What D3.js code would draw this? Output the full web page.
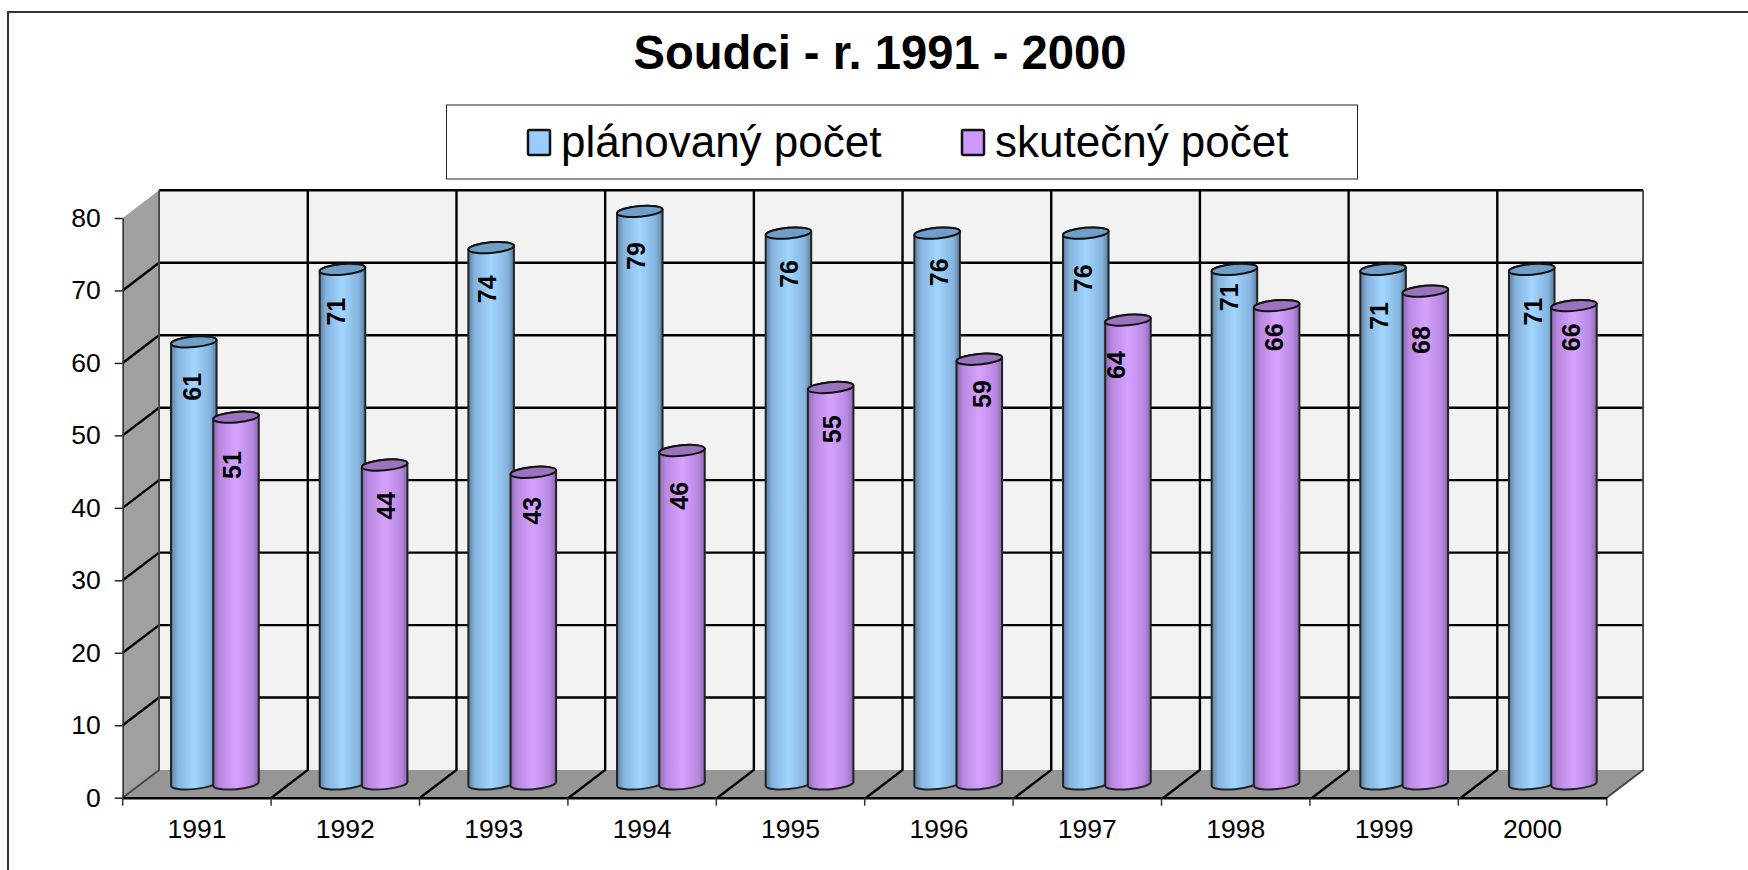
<!DOCTYPE html>
<html>
<head>
<meta charset="utf-8">
<script src="https://cdn.jsdelivr.net/npm/d3@7"></script>
<style>
html, body { margin: 0; padding: 0; background: #fff; }
svg { display: block; }
text { font-family: "Liberation Sans", Arial, sans-serif; fill: #000; }
</style>
</head>
<body>
<svg id="chart" width="1748" height="870"></svg>
<script>
let years = ["1991", "1992", "1993", "1994", "1995", "1996", "1997", "1998", "1999", "2000"];
let planned = [61, 71, 74, 79, 76, 76, 76, 71, 71, 71];
let actual = [50.6, 44, 43, 46, 54.7, 58.6, 64, 66, 68, 66];
let seriesNames = ["plánovaný počet", "skutečný počet"];
let yTicks = [0, 10, 20, 30, 40, 50, 60, 70, 80];

let svg = d3.select("#chart");

// the 3d box: front plane plus a depth shift to the back wall
let depth = {x: 36.4, y: -27.7};
let front = {left: 122.7, right: 1606.7, bottom: 797.7, top: 218};

let x = d3.scaleBand().domain(years).range([front.left, front.right]);
let xEdge = d3.scaleLinear().domain([0, years.length]).range([front.left, front.right]);
// gridlines and cylinders run on a slightly wider step than the axis ticks
let xCyl = d3.scaleBand().domain(years).range([front.left, front.left + 1486.6]);
let xGrid = d3.scaleLinear().domain([0, 9, 10]).range([front.left, front.left + 1338.2, front.right]);
let y = d3.scaleLinear().domain([0, 80]).range([front.bottom, front.top]);

let cylW = 45.7;
let cylStep = 42.2;
let cylLeft = 71.1;
let rx = cylW / 2, ry = 5.3, tilt = -5;

svg.append("path").attr("fill", "none").attr("stroke", "#333").attr("stroke-width", 2)
    .attr("d", d3.line()([[8, 870], [8, 12], [1748, 12]]));

let defs = svg.append("defs");
function cylGradient(id, edge, shade, mid) {
    let g = defs.append("linearGradient").attr("id", id);
    g.append("stop").attr("offset", "0%").attr("stop-color", edge);
    g.append("stop").attr("offset", "14%").attr("stop-color", shade);
    g.append("stop").attr("offset", "50%").attr("stop-color", mid);
    g.append("stop").attr("offset", "86%").attr("stop-color", shade);
    g.append("stop").attr("offset", "100%").attr("stop-color", edge);
}
cylGradient("gradBlue", "#5a7fa0", "#85b3dd", "#a1d6ff");
cylGradient("gradPurple", "#8a68ac", "#b888e0", "#d6a2ff");

// walls and floor
let bx0 = front.left + depth.x, bx1 = front.right + depth.x;
let by0 = front.bottom + depth.y, by1 = front.top + depth.y;

svg.append("rect").attr("x", bx0).attr("y", by1).attr("width", bx1 - bx0).attr("height", by0 - by1)
    .attr("fill", "#f2f2f2");
svg.append("path")
    .attr("d", d3.line()([[front.left, front.bottom], [bx0, by0], [bx0, by1], [front.left, front.top]]) + "Z")
    .attr("fill", "#a0a0a0");
svg.append("path")
    .attr("d", d3.line()([[front.left, front.bottom], [bx0, by0], [bx1, by0], [front.right, front.bottom]]) + "Z")
    .attr("fill", "#969696");

// gridlines, wrapping from the side wall onto the back wall
let grid = svg.append("g").attr("fill", "none").attr("stroke", "#000").attr("stroke-width", 2.4);
yTicks.filter(d => d > 0).forEach(d => {
    let pts = [[bx0, y(d) + depth.y], [bx1, y(d) + depth.y]];
    if (d < 80) pts.unshift([front.left, y(d)]);
    grid.append("path").attr("d", d3.line()(pts));
});
d3.range(0, years.length + 1).forEach(i => {
    let outer = i === 0 || i === years.length;
    grid.append("path")
        .attr("stroke", outer ? "#444" : "#000")
        .attr("stroke-width", outer ? 1.8 : 2.4)
        .attr("d", d3.line()([
            [xGrid(i), front.bottom], [xGrid(i) + depth.x, by0], [xGrid(i) + depth.x, by1]
        ]));
});

// axes
let yAxis = svg.append("g").attr("transform", "translate(" + front.left + ",0)")
    .call(d3.axisLeft(y).tickValues(yTicks).tickSize(8).tickSizeOuter(0).tickPadding(14));
let xAxis = svg.append("g").attr("transform", "translate(0," + front.bottom + ")")
    .call(d3.axisBottom(x).tickSize(0).tickPadding(21.5));
yAxis.select(".domain").attr("stroke", "#333").attr("stroke-width", 1.6);
xAxis.select(".domain").attr("stroke", "#000").attr("stroke-width", 2.6);
yAxis.selectAll(".tick line").attr("stroke", "#222").attr("stroke-width", 1.5);
yAxis.selectAll("text").attr("font-size", 26.5).style("font-family", '"Liberation Sans", Arial, sans-serif');
xAxis.selectAll("text").attr("font-size", 26.5).style("font-family", '"Liberation Sans", Arial, sans-serif');
svg.append("g").selectAll("line").data(d3.range(0, years.length + 1)).enter().append("line")
    .attr("x1", d => xEdge(d)).attr("x2", d => xEdge(d))
    .attr("y1", front.bottom).attr("y2", front.bottom + 8)
    .attr("stroke", "#333").attr("stroke-width", 1.5);

// cylinders
function cylinderPath(cx, top, base) {
    let c = Math.cos(tilt * Math.PI / 180), s = Math.sin(tilt * Math.PI / 180);
    let lx = cx - rx * c, rxp = cx + rx * c;
    let ly = -rx * s, ry0 = rx * s;
    return "M" + lx + "," + (top + ly)
        + "L" + lx + "," + (base + ly)
        + "A" + rx + "," + ry + "," + tilt + ",0,0," + rxp + "," + (base + ry0)
        + "L" + rxp + "," + (top + ry0)
        + "A" + rx + "," + ry + "," + tilt + ",0,0," + lx + "," + (top + ly) + "Z";
}

function drawSeries(values, offset, grad, capFill) {
    let g = svg.append("g").selectAll("g").data(values).enter().append("g");
    let cx = (d, i) => xCyl(years[i]) + cylLeft + offset;
    let midY = v => y(v) + depth.y / 2;
    g.append("path")
        .attr("d", (d, i) => cylinderPath(cx(d, i), midY(d), midY(0)))
        .attr("fill", "url(#" + grad + ")")
        .attr("stroke", "#222").attr("stroke-width", 2);
    g.append("ellipse")
        .attr("rx", rx).attr("ry", ry)
        .attr("transform", (d, i) => "translate(" + cx(d, i) + "," + midY(d) + ") rotate(" + tilt + ")")
        .attr("fill", capFill).attr("stroke", "#111").attr("stroke-width", 2);
    return g;
}

let blue = drawSeries(planned, 0, "gradBlue", "#6f9ec8");
let violet = drawSeries(actual, cylStep, "gradPurple", "#9a72bd");

// the labels were dragged by hand in the original, so each one carries its own nudge
let plannedNudgeX = [-2, -6.5, -4, -3, 1.6, 3.5, -1, -3.6, -1.7, 3.9];
let plannedDrop = [44.9, 42.3, 41.7, 44.6, 40.8, 39.1, 45.1, 27.9, 46.6, 42.3];
let actualNudgeX = [-4, 1, -1.5, -3, 2.4, 4, -11, -1, -3, -1.3];
let actualDrop = [47.8, 40.7, 38.4, 45.2, 41.8, 34.8, 44.9, 31.7, 48.9, 31.7];

function drawLabels(group, offset, nudgeX, drop) {
    group.append("text")
        .attr("transform", (d, i) => "translate(" + (x(years[i]) + cylLeft + offset + nudgeX[i]) + "," + (y(d) + depth.y / 2 + drop[i]) + ") rotate(-90)")
        .attr("text-anchor", "middle").attr("dy", "0.36em")
        .attr("font-size", 25).attr("font-weight", "bold")
        .text(d => d3.format(".0f")(d));
}
drawLabels(blue, 0, plannedNudgeX, plannedDrop);
drawLabels(violet, 42.5, actualNudgeX, actualDrop);

// title and legend
svg.append("text").attr("x", 880).attr("y", 69).attr("text-anchor", "middle")
    .attr("font-size", 47.2).attr("font-weight", "bold").text("Soudci - r. 1991 - 2000");

svg.append("rect").attr("x", 446.5).attr("y", 105).attr("width", 911).attr("height", 74)
    .attr("fill", "#fff").attr("stroke", "#222").attr("stroke-width", 1);

let legendColors = ["#99ccff", "#cc99ff"];
let legendX = [528, 962];
seriesNames.forEach((name, i) => {
    svg.append("rect").attr("x", legendX[i]).attr("y", 130).attr("width", 22).attr("height", 25)
        .attr("fill", legendColors[i]).attr("stroke", "#111").attr("stroke-width", 2.5).attr("rx", 1.5);
    svg.append("text").attr("x", legendX[i] + 33).attr("y", 157)
        .attr("font-size", 44).text(name);
});
</script>
</body>
</html>
